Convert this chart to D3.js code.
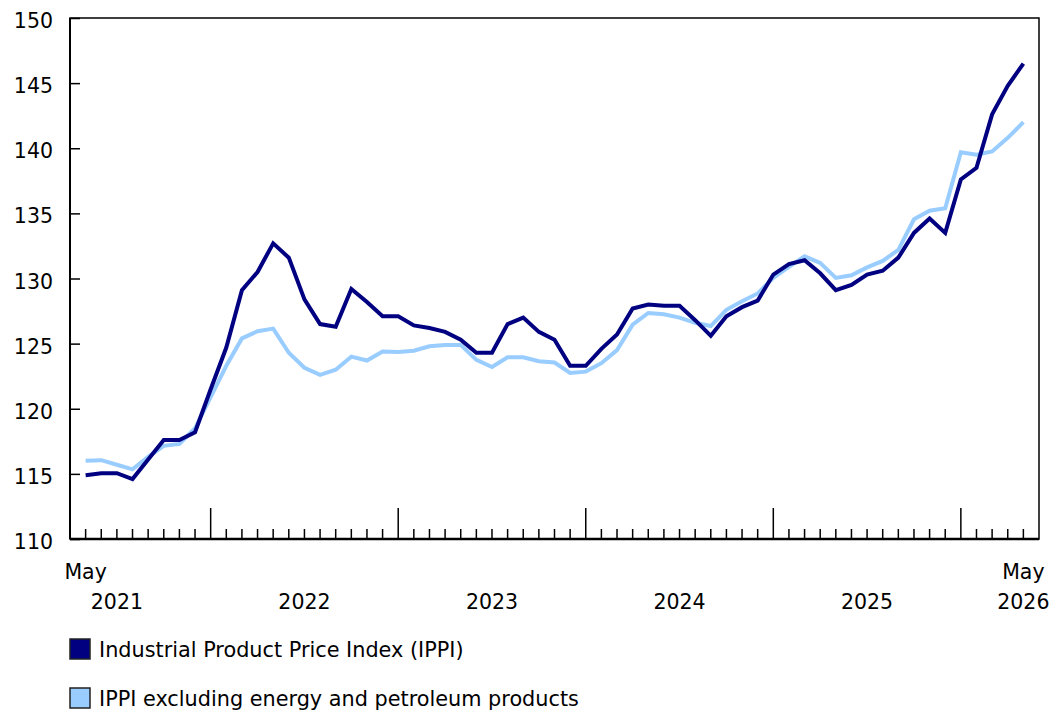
<!DOCTYPE html>
<html>
<head>
<meta charset="utf-8">
<script src="https://cdn.jsdelivr.net/npm/d3@7"></script>
<style>
  body { margin: 0; background: #fff; }
  svg text { font-family: "DejaVu Sans", Verdana, sans-serif; fill: #000; }
</style>
</head>
<body>
<svg id="chart" width="1053" height="711"></svg>
<script>
// Monthly index values, May 2021 to May 2026.
var startMonth = new Date(2021, 4, 1);
var ippi = [
  114.9, 115.05, 115.05, 114.6, 116.1, 117.6, 117.6, 118.2,
  121.5, 124.7, 129.1, 130.5, 132.7, 131.6, 128.4, 126.5, 126.3, 129.2, 128.2, 127.1,
  127.1, 126.4, 126.2, 125.9, 125.3, 124.3, 124.3, 126.5, 127.0, 125.9, 125.3, 123.3,
  123.3, 124.6, 125.7, 127.7, 128.0, 127.9, 127.9, 126.8, 125.6, 127.1, 127.8, 128.3,
  130.3, 131.1, 131.4, 130.4, 129.1, 129.5, 130.3, 130.6, 131.6, 133.5, 134.6, 133.5,
  137.6, 138.5, 142.6, 144.8, 146.5
];
var ippiExEnergy = [
  116.0, 116.05, 115.7, 115.35, 116.3, 117.15, 117.3, 118.5,
  120.9, 123.3, 125.4, 125.95, 126.15, 124.3, 123.15, 122.6, 123.0, 124.0, 123.7, 124.4,
  124.35, 124.45, 124.8, 124.9, 124.9, 123.75, 123.2, 123.95, 123.95, 123.65, 123.55, 122.75,
  122.85, 123.5, 124.5, 126.45, 127.35, 127.25, 127.0, 126.6, 126.35, 127.6, 128.25, 128.85,
  130.05, 130.9, 131.7, 131.2, 130.05, 130.25, 130.85, 131.35, 132.2, 134.55, 135.2, 135.4,
  139.7, 139.5, 139.75, 140.8, 142.0
];
var yTicks = [110, 115, 120, 125, 130, 135, 140, 145, 150];
var seriesNames = [
  'Industrial Product Price Index (IPPI)',
  'IPPI excluding energy and petroleum products'
];
var seriesColors = ['#000080', '#99ccff'];

var svg = d3.select('#chart');
var plotLeft = 70, plotRight = 1039, plotTop = 18, plotBottom = 539;
var n = ippi.length;

var x = d3.scaleLinear().domain([-1, n]).range([plotLeft, plotRight]);
var y = d3.scaleLinear().domain([110, 150]).range([plotBottom, plotTop]);

// Plot frame.
svg.append('rect')
    .attr('x', plotLeft).attr('y', plotTop)
    .attr('width', plotRight - plotLeft).attr('height', plotBottom - plotTop)
    .attr('fill', 'none').attr('stroke', '#000').attr('stroke-width', 1.5);
svg.append('line')
    .attr('x1', plotLeft).attr('x2', plotRight)
    .attr('y1', plotBottom).attr('y2', plotBottom)
    .attr('stroke', '#000').attr('stroke-width', 2.5);
svg.append('line')
    .attr('x1', plotLeft).attr('x2', plotLeft)
    .attr('y1', plotTop).attr('y2', plotBottom)
    .attr('stroke', '#000').attr('stroke-width', 2);

// Y axis: ticks inside the frame, labels to the left.
var yAxis = d3.axisRight(y).tickValues(yTicks).tickSize(10).tickFormat('');
svg.append('g').attr('transform', 'translate(' + plotLeft + ',0)').call(yAxis)
    .call(function(g) {
      g.select('.domain').remove();
      g.selectAll('line').attr('stroke', '#000').attr('stroke-width', 1.5);
    });
svg.append('g').selectAll('text').data(yTicks).join('text')
    .attr('x', 53).attr('y', function(d) { return y(d) + 4; })
    .attr('text-anchor', 'end').attr('dominant-baseline', 'middle')
    .attr('font-size', 20.5).text(function(d) { return d; });

// X axis: a tick every month, long ticks at January.
var months = d3.range(n).map(function(i) {
  return d3.timeMonth.offset(startMonth, i);
});
svg.append('g').selectAll('line').data(months).join('line')
    .attr('x1', function(d, i) { return x(i); })
    .attr('x2', function(d, i) { return x(i); })
    .attr('y1', plotBottom)
    .attr('y2', function(d) {
      return d.getMonth() == 0 ? plotBottom - 31 : plotBottom - 10;
    })
    .attr('stroke', '#000').attr('stroke-width', 1.5);

var monthFmt = d3.timeFormat('%b');
svg.append('text').attr('x', x(0)).attr('y', 579)
    .attr('text-anchor', 'middle').attr('font-size', 20.5)
    .text(monthFmt(months[0]));
svg.append('text').attr('x', x(n - 1)).attr('y', 579)
    .attr('text-anchor', 'middle').attr('font-size', 20.5)
    .text(monthFmt(months[n - 1]));

// Year labels sit halfway between January ticks; the last one under May.
var years = d3.range(2021, 2027);
svg.append('g').selectAll('text').data(years).join('text')
    .attr('x', function(yr) {
      var janIdx = d3.timeMonth.count(startMonth, new Date(yr, 0, 1));
      return janIdx + 12 > n ? x(n - 1) : x(janIdx + 6);
    })
    .attr('y', 609)
    .attr('text-anchor', 'middle').attr('font-size', 20.5)
    .text(function(yr) { return yr; });

// Lines.
var line = d3.line()
    .x(function(d, i) { return x(i); })
    .y(function(d) { return y(d); });
[ippiExEnergy, ippi].forEach(function(series, k) {
  svg.append('path').datum(series)
      .attr('d', line)
      .attr('fill', 'none')
      .attr('stroke', seriesColors[1 - k])
      .attr('stroke-width', 4)
      .attr('stroke-linejoin', 'miter');
});

// Legend.
var legend = svg.append('g').selectAll('g').data(seriesNames).join('g')
    .attr('transform', function(d, i) {
      return 'translate(70,' + (639 + i * 49) + ')';
    });
legend.append('rect')
    .attr('width', 20).attr('height', 20)
    .attr('fill', function(d, i) { return seriesColors[i]; })
    .attr('stroke', '#222').attr('stroke-width', 1.5);
legend.append('text')
    .attr('x', 29).attr('y', 18)
    .attr('font-size', 20.8)
    .text(function(d) { return d; });
</script>
</body>
</html>
